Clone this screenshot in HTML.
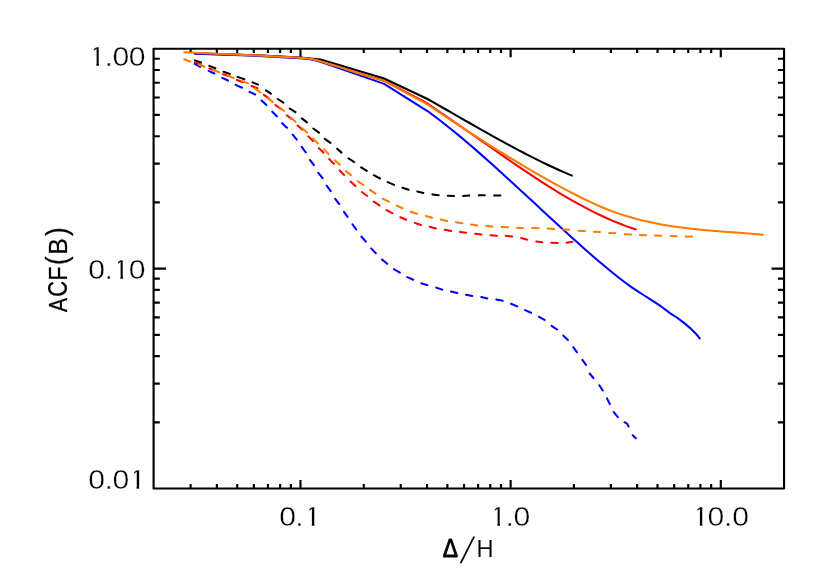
<!DOCTYPE html>
<html lang="en"><head><meta charset="utf-8"><title>ACF(B) vs Δ/H</title>
<style>
html,body{margin:0;padding:0;background:#fff;}
body{width:830px;height:586px;overflow:hidden;font-family:"Liberation Sans",sans-serif;}
svg{display:block;}
svg text{font-family:"Liberation Sans",sans-serif;fill:#000;}
.ax{stroke:#000;stroke-width:2.15;fill:none;stroke-linecap:butt;}
.c{fill:none;stroke-width:2.05;stroke-linejoin:round;stroke-linecap:round;}
.lbl{stroke:#fff;stroke-width:0.34;paint-order:fill stroke;}
#labels{opacity:0.999;}
</style></head>
<body>
<svg width="830" height="586" viewBox="0 0 830 586">
<rect x="0" y="0" width="830" height="586" fill="#fff"/>
<g id="axes">
<path class="ax" d="M190.61 488.5V484.10M190.61 48.7V53.10M216.86 488.5V484.10M216.86 48.7V53.10M237.23 488.5V484.10M237.23 48.7V53.10M253.87 488.5V484.10M253.87 48.7V53.10M267.94 488.5V484.10M267.94 48.7V53.10M280.12 488.5V484.10M280.12 48.7V53.10M290.87 488.5V484.10M290.87 48.7V53.10M300.49 488.5V480.00M300.49 48.7V57.20M363.75 488.5V484.10M363.75 48.7V53.10M400.76 488.5V484.10M400.76 48.7V53.10M427.01 488.5V484.10M427.01 48.7V53.10M447.38 488.5V484.10M447.38 48.7V53.10M464.02 488.5V484.10M464.02 48.7V53.10M478.09 488.5V484.10M478.09 48.7V53.10M490.27 488.5V484.10M490.27 48.7V53.10M501.02 488.5V484.10M501.02 48.7V53.10M510.64 488.5V480.00M510.64 48.7V57.20M573.90 488.5V484.10M573.90 48.7V53.10M610.91 488.5V484.10M610.91 48.7V53.10M637.16 488.5V484.10M637.16 48.7V53.10M657.53 488.5V484.10M657.53 48.7V53.10M674.17 488.5V484.10M674.17 48.7V53.10M688.24 488.5V484.10M688.24 48.7V53.10M700.42 488.5V484.10M700.42 48.7V53.10M711.17 488.5V484.10M711.17 48.7V53.10M720.79 488.5V480.00M720.79 48.7V57.20M153.6 422.30H159.80M784.05 422.30H777.85M153.6 383.58H159.80M784.05 383.58H777.85M153.6 356.11H159.80M784.05 356.11H777.85M153.6 334.80H159.80M784.05 334.80H777.85M153.6 317.38H159.80M784.05 317.38H777.85M153.6 302.66H159.80M784.05 302.66H777.85M153.6 289.91H159.80M784.05 289.91H777.85M153.6 278.66H159.80M784.05 278.66H777.85M153.6 268.60H166.10M784.05 268.60H771.55M153.6 202.40H159.80M784.05 202.40H777.85M153.6 163.68H159.80M784.05 163.68H777.85M153.6 136.21H159.80M784.05 136.21H777.85M153.6 114.90H159.80M784.05 114.90H777.85M153.6 97.48H159.80M784.05 97.48H777.85M153.6 82.76H159.80M784.05 82.76H777.85M153.6 70.01H159.80M784.05 70.01H777.85M153.6 58.76H159.80M784.05 58.76H777.85"/>
<rect class="ax" x="153.6" y="48.7" width="630.45" height="439.80" stroke-linejoin="round"/>
</g>
<g id="curves">
<path class="c" stroke="#000000" d="M194.9 53.32 L257.6 55.30 L300.0 57.60 L320.6 59.50 L384.1 78.50 L427.5 99.01 L433.5 102.40 L439.5 105.82 L445.5 109.25 L451.5 112.68 L457.5 116.12 L463.5 119.56 L469.5 122.99 L475.5 126.41 L481.5 129.81 L487.5 133.19 L493.5 136.55 L499.5 139.87 L505.5 143.16 L511.5 146.40 L517.5 149.60 L523.5 152.75 L529.5 155.84 L535.5 158.87 L541.5 161.83 L547.5 164.72 L553.5 167.54 L559.5 170.27 L565.5 172.92 L571.9 175.66"/>
<path class="c" stroke="#000000" d="M194.9 60.4L201.1 62.4M209.3 65.9L215.4 68.2M223.6 71.8L229.8 73.9M237.6 76.9L244.3 79.3M252.5 82.4L258.1 84.6M265.9 90.3L270.9 93.6M277.8 99.0L283.4 102.6M289.8 108.6L295.5 112.2M301.9 118.4L306.9 122.4M313.3 128.5L319.0 132.7M324.8 138.8L330.4 142.9M337.1 148.8L341.5 152.6M348.5 158.4L354.1 162.0M361.2 167.4L366.8 170.8M373.8 175.2L380.0 178.5M387.8 182.1L394.1 184.9M402.5 187.7L408.6 189.7M417.3 191.5L423.4 193.0M432.4 194.4L438.7 195.2M447.8 195.8L454.1 196.0M463.1 195.9L469.2 195.4M478.8 195.2L484.8 195.2M494.1 195.4L500.4 195.4"/>
<path class="c" stroke="#ff0000" d="M194.9 53.52 L257.6 55.40 L296.0 57.60 L305.0 58.20 L310.5 58.80 L317.7 60.50 L324.9 62.70 L339.4 67.10 L356.0 72.40 L384.1 80.70 L427.5 103.51 L433.5 107.67 L439.5 111.80 L445.5 115.93 L451.5 120.05 L457.5 124.18 L463.5 128.32 L469.5 132.47 L475.5 136.64 L481.5 140.82 L487.5 145.02 L493.5 149.22 L499.5 153.41 L505.5 157.59 L511.5 161.74 L517.5 165.86 L523.5 169.93 L529.5 173.95 L535.5 177.91 L541.5 181.81 L547.5 185.63 L553.5 189.37 L559.5 193.02 L565.5 196.59 L571.5 200.05 L577.5 203.42 L583.5 206.67 L589.5 209.81 L595.5 212.82 L601.5 215.71 L607.5 218.47 L613.5 221.08 L619.5 223.55 L625.5 225.87 L631.5 228.03 L635.9 229.51"/>
<path class="c" stroke="#ff0000" d="M194.9 62.5L201.1 64.5M209.3 68.5L214.8 70.5M223.2 74.3L229.2 75.9M237.0 80.0L243.1 82.2M251.5 86.0L257.5 88.2M263.9 94.8L269.0 98.4M275.4 105.0L280.4 108.6M286.8 115.3L291.2 118.8M297.6 125.6L302.2 129.6M308.4 136.4L313.0 141.0M318.9 148.2L323.5 152.6M329.1 159.1L333.8 163.7M339.7 170.5L344.2 175.1M350.6 181.6L355.4 186.0M361.8 192.0L367.2 196.0M373.8 201.7L379.4 205.4M386.5 210.1L392.5 213.3M400.4 217.2L406.2 219.8M414.9 222.9L421.0 225.0M429.8 226.8L435.8 228.5M444.8 229.7L451.1 231.0M460.1 231.9L466.1 232.7M475.2 233.7L481.4 234.5M490.5 235.2L496.9 235.8M505.8 235.8L512.2 236.4M521.2 238.0L527.2 239.7M536.3 241.5L542.3 242.3M551.3 242.7L557.7 243.0M566.5 242.7L572.5 241.7"/>
<path class="c" stroke="#0000ff" d="M194.9 53.72 L257.6 55.90 L300.0 58.30 L310.5 59.20 L317.7 61.00 L324.9 63.40 L339.4 68.40 L356.0 74.10 L384.1 83.90 L427.5 111.01 L433.5 115.45 L439.5 120.02 L445.5 124.70 L451.5 129.50 L457.5 134.40 L463.5 139.39 L469.5 144.47 L475.5 149.64 L481.5 154.87 L487.5 160.17 L493.5 165.53 L499.5 170.95 L505.5 176.40 L511.5 181.89 L517.5 187.41 L523.5 192.96 L529.5 198.51 L535.5 204.07 L541.5 209.64 L547.5 215.19 L553.5 220.73 L559.5 226.24 L565.5 231.73 L571.5 237.17 L577.5 242.58 L583.5 247.92 L589.5 253.21 L595.5 258.43 L601.5 263.56 L607.5 268.57 L613.5 273.45 L619.5 278.18 L625.5 282.72 L631.5 287.05 L637.5 291.14 L643.5 295.01 L649.5 298.80 L655.5 302.65 L661.5 306.71 L670.0 313.10 L676.8 317.50 L683.7 322.60 L690.5 328.40 L693.9 331.80 L697.3 335.30 L699.7 338.43"/>
<path class="c" stroke="#0000ff" d="M194.8 63.8L200.2 66.8M208.6 70.9L214.3 73.5M222.3 77.9L228.0 80.5M235.7 84.9L242.0 87.7M249.6 91.9L255.2 94.5M261.6 100.4L266.4 105.1M272.3 111.7L276.9 116.3M282.1 123.2L286.9 127.8M292.7 134.7L296.8 139.7M301.7 146.8L305.8 152.5M309.9 160.0L313.9 165.0M318.3 172.8L322.6 178.1M326.7 185.7L330.7 191.1M335.2 198.9L339.2 204.0M344.0 211.8L347.6 216.8M352.5 224.4L356.2 229.4M361.5 236.7L365.8 241.6M371.2 248.4L375.8 253.3M382.1 259.6L387.2 263.8M393.9 269.2L399.8 272.7M407.3 277.1L413.2 279.7M421.4 283.2L427.4 285.2M436.2 287.6L442.2 289.6M450.9 291.5L457.3 293.1M466.0 294.7L472.2 296.0M481.3 297.1L487.3 298.4M496.3 299.6L502.7 300.8M511.1 303.8L517.2 306.4M525.1 310.1L531.1 312.8M539.0 316.9L544.6 319.9M551.6 325.9L557.0 329.5M563.2 335.6L567.9 340.0M573.2 347.2L576.9 352.2M582.4 359.8L586.0 364.9M589.7 373.5L593.4 378.1M599.3 385.3L602.8 390.5M607.0 398.4L609.8 404.0M613.8 412.1L617.8 417.1M624.5 422.2 L627 423.6 L628.6 426.5 M632.7 435.3 L635.8 438.2"/>
<path class="c" stroke="#ff7a00" d="M184.3 52.33 L194.3 52.85 L257.6 55.50 L275.0 56.45 L296.0 57.60 L305.0 58.20 L310.5 58.80 L317.7 60.50 L324.9 62.70 L339.4 67.10 L356.0 72.40 L384.1 80.90 L427.5 104.41 L433.5 108.46 L439.5 112.50 L445.5 116.51 L451.5 120.49 L457.5 124.44 L463.5 128.37 L469.5 132.27 L475.5 136.13 L481.5 139.97 L487.5 143.77 L493.5 147.54 L499.5 151.27 L505.5 154.97 L511.5 158.63 L517.5 162.25 L523.5 165.83 L529.5 169.37 L535.5 172.87 L541.5 176.32 L547.5 179.72 L553.5 183.06 L559.5 186.34 L565.5 189.56 L571.5 192.70 L577.5 195.77 L583.5 198.77 L589.5 201.66 L595.5 204.43 L601.5 207.06 L607.5 209.51 L613.5 211.78 L619.5 213.88 L625.5 215.81 L631.5 217.59 L637.5 219.23 L643.5 220.72 L649.5 222.09 L655.5 223.33 L661.5 224.46 L667.5 225.49 L673.5 226.42 L679.5 227.26 L685.5 228.03 L691.5 228.73 L697.5 229.37 L703.5 229.95 L709.5 230.49 L715.5 231.00 L721.5 231.48 L727.5 231.94 L733.5 232.39 L739.5 232.84 L745.5 233.30 L751.5 233.78 L757.5 234.28 L762.8 234.75"/>
<path class="c" stroke="#ff7a00" d="M184.4 59.3L190.3 61.7M198.6 64.5L204.5 66.8M213.0 69.9L219.1 72.2M227.4 75.5L233.6 77.9M241.8 81.0L248.0 83.4M254.9 88.4L260.5 92.5M267.5 97.9L272.6 101.9M279.6 107.5L284.0 110.9M290.9 117.7L295.6 121.8M301.8 128.0L307.0 132.6M313.2 138.8L317.9 143.5M324.1 149.4L328.6 154.1M334.9 160.3L339.8 164.7M346.1 171.1L350.9 175.1M357.9 181.3L363.2 184.9M370.0 189.9L375.5 193.7M382.8 198.7L388.9 201.6M396.8 205.6L402.6 208.3M410.7 211.8L417.0 213.8M425.8 216.0L432.1 217.8M440.8 219.5L447.1 221.1M455.9 222.3L462.3 223.3M471.0 224.6L477.2 225.4M486.3 226.0L492.3 226.6M501.7 227.0L508.0 227.3M517.0 227.7L523.0 228.0M532.3 228.1L538.7 228.3M547.7 228.6L554.1 228.9M562.9 229.5L569.3 229.8M578.6 230.7L584.9 230.9M593.9 231.8L599.9 232.0M609.3 233.0L615.3 233.3M624.6 234.2L631.0 234.5M639.9 235.0L646.0 235.2M655.1 235.4L661.3 235.7M670.7 236.0L676.7 236.2M685.6 236.5L692.1 236.6"/>
</g>
<g id="labels">
<g id="ticklabels">
<text class="lbl" transform="scale(1.1136,1)" x="79.68 93.76 101.08 115.62" y="66.50" font-size="27.03">1.00</text><rect x="90.24" y="63.98" width="6.05" height="3.52" fill="#fff"/><rect x="98.97" y="63.98" width="6.92" height="3.52" fill="#fff"/><rect x="90.24" y="47.58" width="3.67" height="6.76" fill="#fff"/>
<text class="lbl" transform="scale(1.1078,1)" x="79.67 94.25 101.85 116.23" y="279.10" font-size="27.18">0.10</text><rect x="114.34" y="276.57" width="6.05" height="3.53" fill="#fff"/><rect x="123.07" y="276.57" width="6.92" height="3.53" fill="#fff"/><rect x="114.34" y="260.08" width="3.67" height="6.79" fill="#fff"/>
<text class="lbl" transform="scale(1.1194,1)" x="78.84 93.28 100.55 115.18" y="489.20" font-size="26.89">0.01</text><rect x="130.44" y="486.70" width="6.05" height="3.51" fill="#fff"/><rect x="139.17" y="486.70" width="6.92" height="3.51" fill="#fff"/><rect x="130.44" y="470.38" width="3.67" height="6.72" fill="#fff"/>
<text class="lbl" transform="scale(1.1136,1)" x="250.77 265.10 273.20" y="525.70" font-size="27.03">0.1</text><rect x="305.74" y="523.18" width="6.05" height="3.52" fill="#fff"/><rect x="314.47" y="523.18" width="6.92" height="3.52" fill="#fff"/><rect x="305.74" y="506.78" width="3.67" height="6.76" fill="#fff"/>
<text class="lbl" transform="scale(1.1136,1)" x="439.78 453.95 461.17" y="525.70" font-size="27.03">1.0</text><rect x="491.24" y="523.18" width="6.05" height="3.52" fill="#fff"/><rect x="499.97" y="523.18" width="6.92" height="3.52" fill="#fff"/><rect x="491.24" y="506.78" width="3.67" height="6.76" fill="#fff"/>
<text class="lbl" transform="scale(1.1136,1)" x="621.63 635.38 650.17 657.56" y="525.70" font-size="27.03">10.0</text><rect x="693.74" y="523.18" width="6.05" height="3.52" fill="#fff"/><rect x="702.47" y="523.18" width="6.92" height="3.52" fill="#fff"/><rect x="693.74" y="506.78" width="3.67" height="6.76" fill="#fff"/>
</g>
<g id="xtitle"><text class="dl" transform="matrix(0.2286 0 0 0.2500 442.71 557.40)" font-size="100" stroke="#000" stroke-width="3.2" stroke-linejoin="round">Δ</text><text transform="matrix(0.25 0 -0.116 0.366 459.8 562.9)" font-size="100">/</text><text class="lbl" transform="matrix(0.2361 0 0 0.2427 476.46 556.60)" font-size="100" >H</text></g>
<g id="ytitle" transform="translate(0,312.2) rotate(-90)"><text class="yl" transform="matrix(0.2090 0 0 0.2669 0.08 66.78)" font-size="100" stroke="#000" stroke-width="1.1">A</text><text class="yl" transform="matrix(0.2190 0 0 0.2692 15.40 66.91)" font-size="100" stroke="#000" stroke-width="1.1">C</text><text class="yl" transform="matrix(0.2344 0 0 0.2669 31.50 66.78)" font-size="100" stroke="#000" stroke-width="1.1">F</text><text class="yl" transform="matrix(0.2551 0 0 0.2914 47.14 66.95)" font-size="100" stroke="#000" stroke-width="1.1">(</text><text class="yl" transform="matrix(0.2436 0 0 0.2669 57.82 66.78)" font-size="100" stroke="#000" stroke-width="1.1">B</text><text class="yl" transform="matrix(0.2626 0 0 0.2914 76.26 66.95)" font-size="100" stroke="#000" stroke-width="1.1">)</text></g>
</g>
</svg>
</body></html>
